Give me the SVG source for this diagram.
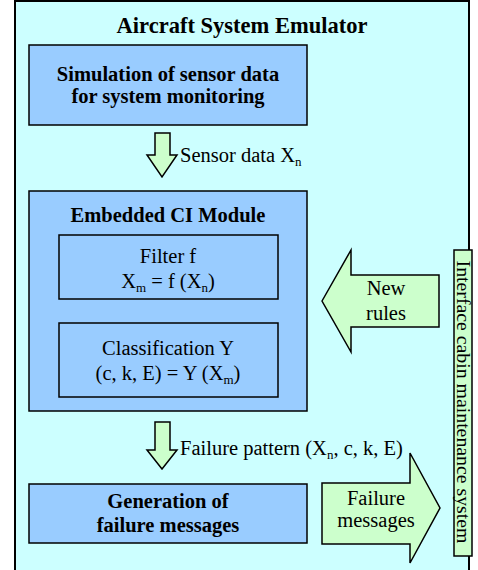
<svg xmlns="http://www.w3.org/2000/svg" width="478" height="570" viewBox="0 0 478 570">
<style>
text{font-family:"Liberation Serif","Times New Roman",serif;fill:#000;text-anchor:middle;font-size:20.5px}
.b{font-weight:bold}
.box{fill:#99CCFF;stroke:#000;stroke-width:1.5}
.arr{fill:#CCFFCC;stroke:#000;stroke-width:1.5;stroke-linejoin:miter}
.sub{font-size:13px}
.l{text-anchor:start}
</style>
<rect id="emulator" x="15" y="1" width="454" height="580" fill="#CCFFFF" stroke="#000" stroke-width="2"/>
<text class="b" x="242" y="33" style="font-size:22.5px">Aircraft System Emulator</text>
<g id="simulation">
<rect class="box" x="29" y="45" width="278" height="80"/>
<text class="b" x="168" y="81">Simulation of sensor data</text>
<text class="b" x="168" y="103">for system monitoring</text>
</g>
<g id="ci-module">
<rect class="box" x="29" y="191" width="278" height="220"/>
<text class="b" x="168" y="222">Embedded CI Module</text>
</g>
<g id="filter">
<rect class="box" x="59" y="235" width="219" height="64"/>
<text x="168" y="263">Filter f</text>
<text x="168" y="288">X<tspan class="sub" dy="4">m</tspan><tspan dy="-4"> = f (X</tspan><tspan class="sub" dy="4">n</tspan><tspan dy="-4">)</tspan></text>
</g>
<g id="classification">
<rect class="box" x="59" y="323" width="219" height="74"/>
<text x="168" y="355">Classification Y</text>
<text x="168" y="380">(c, k, E) = Y (X<tspan class="sub" dy="4">m</tspan><tspan dy="-4">)</tspan></text>
</g>
<g id="generation">
<rect class="box" x="29" y="484" width="278" height="59"/>
<text class="b" x="168" y="508">Generation of</text>
<text class="b" x="168" y="532">failure messages</text>
</g>
<g id="interface">
<rect x="454" y="250" width="18" height="306" fill="#CCFFCC" stroke="#000" stroke-width="1.5"/>
<text x="0" y="0" transform="translate(457,402) rotate(90)" style="font-size:19.8px">Interface cabin maintenance system</text>
</g>
<g id="connectors">
<g id="sensor-data">
<path class="arr" d="M155,133 H170 V155 H177 L162,177 L147,155 H155 Z"/>
<text class="l" x="180" y="162">Sensor data X<tspan class="sub" dy="4">n</tspan></text>
</g>
<g id="failure-pattern">
<path class="arr" d="M155,422 H170 V450 H177 L162,469 L147,450 H155 Z"/>
<text class="l" x="180" y="455">Failure pattern (X<tspan class="sub" dy="4">n</tspan><tspan dy="-4">, c, k, E)</tspan></text>
</g>
<g id="new-rules">
<path class="arr" d="M322,301 L351,250 V275 H439 V327 H351 V352 Z"/>
<text x="386" y="295">New</text>
<text x="386" y="320">rules</text>
</g>
<g id="failure-messages">
<path class="arr" d="M322,483 H410 V453 L440,508 L410,563 V544 H322 Z"/>
<text x="376" y="505">Failure</text>
<text x="376" y="527">messages</text>
</g>
</g>
</svg>
